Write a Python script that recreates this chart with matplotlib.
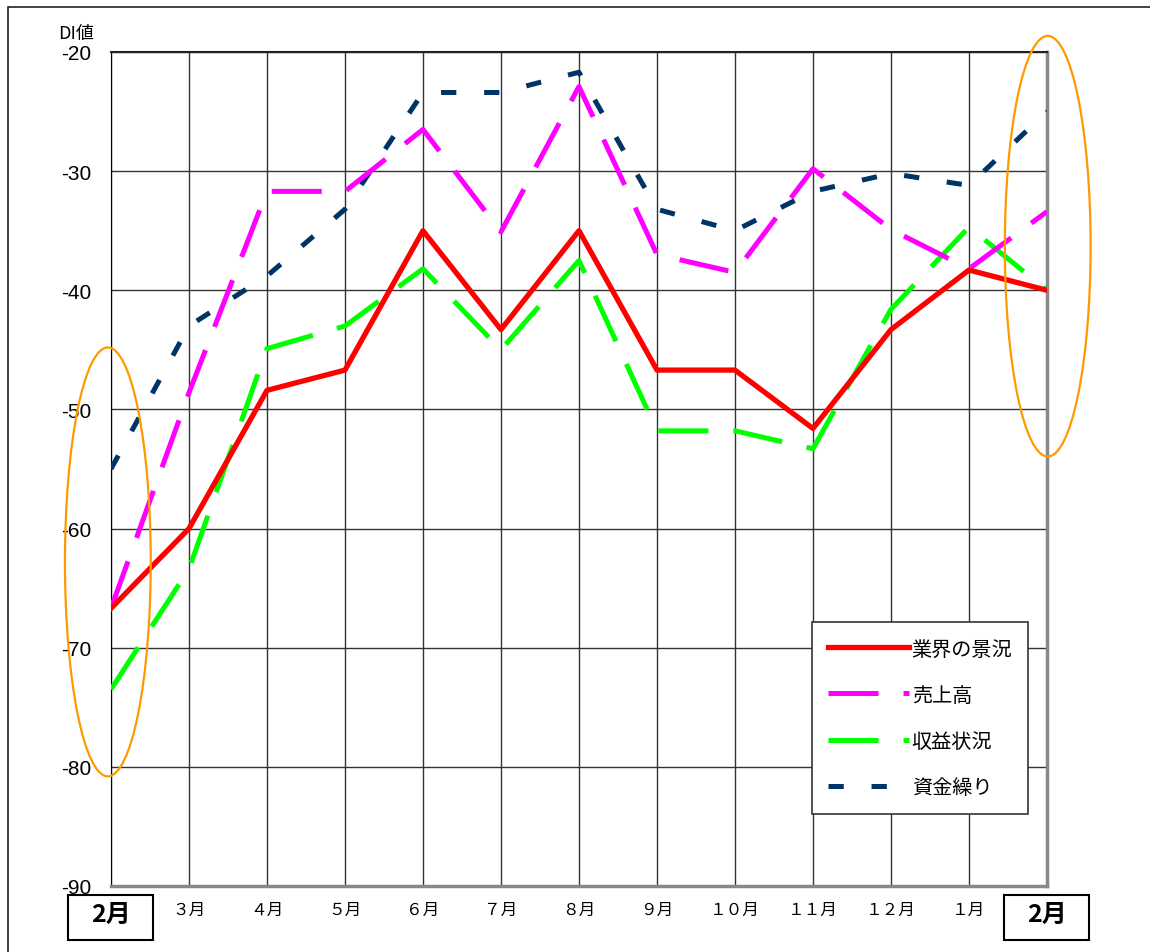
import numpy as np
import matplotlib
matplotlib.use("Agg")
import matplotlib.pyplot as plt
from matplotlib.patches import Ellipse, Rectangle
import matplotlib.transforms as mtransforms

plt.rcParams['font.family'] = ['Noto Sans CJK JP', 'DejaVu Sans']
plt.rcParams['lines.scale_dashes'] = False
plt.rcParams['axes.unicode_minus'] = False

months = ['2月', '３月', '４月', '５月', '６月', '７月', '８月', '９月',
          '１０月', '１１月', '１２月', '１月', '2月']
gyokai = [-66.7, -60.0, -48.4, -46.7, -35.0, -43.3, -35.0, -46.7, -46.7, -51.6, -43.3, -38.3, -40.0]
uriage = [-66.7, -48.6, -31.7, -31.7, -26.5, -35.1, -22.9, -37.0, -38.5, -29.8, -34.9, -38.2, -33.4]
shueki = [-73.5, -63.4, -44.9, -43.0, -38.2, -45.0, -37.5, -51.8, -51.8, -53.3, -41.6, -34.7, -40.0]
shikin = [-55.0, -43.0, -38.8, -33.2, -23.4, -23.4, -21.7, -33.2, -35.0, -31.7, -30.2, -31.2, -25.0]
labels = ['業界の景況', '売上高', '収益状況', '資金繰り']

x = np.arange(len(months))

fig = plt.figure(figsize=(11.5, 9.53), dpi=100)
ax = fig.add_axes([0.0965, 0.0693, 0.8139, 0.8751])

# outer frame (cropped on right / bottom)
fig.add_artist(Rectangle((8 / 1150, -0.1), 1.2, 1.1 - 8 / 953, transform=fig.transFigure,
                         fill=False, edgecolor='#222222', linewidth=1.2))

ax.plot(x, shikin, color='#003366', linewidth=3.6, linestyle=(0, (11, 20)), zorder=3, label=labels[3])
ax.plot(x, shueki, color='#00FF00', linewidth=3.6, linestyle=(0, (36, 18)), zorder=4, label=labels[2])
ax.plot(x, uriage, color='#FF00FF', linewidth=3.6, linestyle=(0, (36, 18)), zorder=5, label=labels[1])
ax.plot(x, gyokai, color='#FF0000', linewidth=3.8, zorder=6, label=labels[0])

ax.set_xlim(0, len(months) - 1)
ax.set_ylim(-90, -20)
ax.set_yticks(np.arange(-90, -19, 10))
ax.set_xticks(x)
ax.set_xticklabels([''] + months[1:-1] + [''])
ax.grid(True, color='#333333', linewidth=1)
ax.set_axisbelow(True)

for t in ax.get_yticklabels():
    t.set_family('Liberation Sans')
ax.tick_params(axis='y', length=0, pad=14, labelsize=15)
ax.tick_params(axis='x', length=0, pad=11, labelsize=12)

ax.spines['left'].set_color('black')
ax.spines['top'].set_color('#222222')
ax.spines['top'].set_linewidth(1.5)
ax.spines['bottom'].set_color('#888888')
ax.spines['bottom'].set_linewidth(2.5)
ax.spines['right'].set_color('#888888')
ax.spines['right'].set_linewidth(2.5)

ax.text(-0.45, -19.2, 'DI値', fontsize=13, ha='center', va='bottom')

# bold boxed first / last month labels
trans = mtransforms.blended_transform_factory(ax.transData, ax.transAxes)
for xi in (x[0], x[-1]):
    ax.text(xi, -0.0336, months[xi], transform=trans, fontsize=18, fontweight='bold',
            ha='center', va='center')
    ax.add_patch(Rectangle((xi - 0.545, -0.0654), 1.09, 0.0540, transform=trans,
                           fill=False, edgecolor='black', linewidth=1.5, clip_on=False))

# orange highlight ellipses
ax.add_patch(Ellipse((x[0] - 0.04, -62.8), 1.1, 36.0, fill=False, edgecolor='#FF9900',
                     linewidth=1.6, clip_on=False, zorder=7))
ax.add_patch(Ellipse((x[-1] + 0.01, -36.3), 1.1, 35.3, fill=False, edgecolor='#FF9900',
                     linewidth=1.6, clip_on=False, zorder=7))

h, l = ax.get_legend_handles_labels()
leg = ax.legend(h[::-1], l[::-1], loc='lower left', bbox_to_anchor=(0.749, 0.0863),
                fontsize=14.5, handlelength=4.0, labelspacing=1.25, borderpad=0.8,
                handletextpad=0.15, fancybox=False, framealpha=1, borderaxespad=0)
leg.get_frame().set_edgecolor('#333333')
leg.get_frame().set_linewidth(1.2)

plt.savefig('out.png', dpi=100)
